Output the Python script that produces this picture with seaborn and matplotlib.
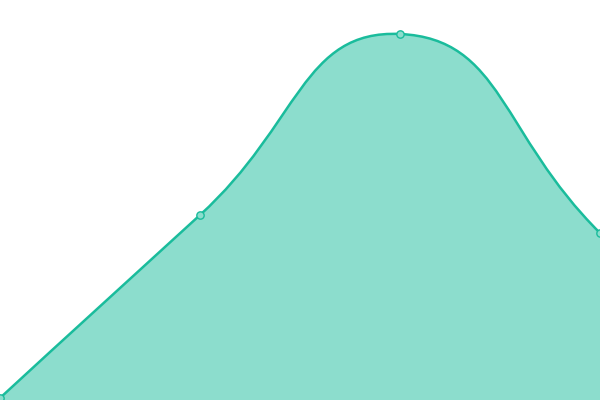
import numpy as np
import matplotlib
matplotlib.use("Agg")
import matplotlib.pyplot as plt
from matplotlib.path import Path
from matplotlib.patches import PathPatch
import seaborn as sns

categories = ["A", "B", "C", "D"]
values = [2, 185, 366, 167]

line_color = "#1abc9c"
smooth = 0.5

sns.set_theme(style="white")

fig = plt.figure(figsize=(6, 4), dpi=100)
ax = fig.add_axes([0, 0, 1, 1])
ax.set_xlim(0, len(categories) - 1)
ax.set_ylim(0, 400)
ax.set_axis_off()

x = np.arange(len(categories))
pts = ax.transData.transform(np.column_stack([x, values]))


def smooth_path(p):
    # echarts-style bezier smoothing, done in pixel space
    verts = [p[0]]
    codes = [Path.MOVETO]
    cp = p[0]
    n = len(p)
    for i in range(1, n):
        cur = p[i]
        prev = p[i - 1]
        nxt = p[i + 1] if i + 1 < n else cur
        v = nxt - prev
        d0 = np.hypot(*(cur - prev))
        d1 = np.hypot(*(nxt - cur))
        r = d1 / (d0 + d1) if d0 + d1 else 0.5
        cp0 = cur - v * smooth * (1 - r)
        verts += [cp, cp0, cur]
        codes += [Path.CURVE4] * 3
        cp = cur + v * smooth * r
    return np.array(verts), codes


verts, codes = smooth_path(pts)
inv = ax.transData.inverted()
dverts = inv.transform(verts)

line = Path(dverts, codes)
ax.add_patch(PathPatch(line, fill=False, edgecolor=line_color, lw=1.8,
                       capstyle="round", joinstyle="round", zorder=3))

base = ax.get_ylim()[0]
area_verts = np.vstack([dverts, [[x[-1], base], [x[0], base], dverts[0]]])
area_codes = codes + [Path.LINETO, Path.LINETO, Path.CLOSEPOLY]
ax.add_patch(PathPatch(Path(area_verts, area_codes), facecolor=line_color,
                       alpha=0.5, lw=0, zorder=2))

sns.scatterplot(x=x, y=values, ax=ax, s=28, color="#8cddcd",
                edgecolor=line_color, linewidth=1, zorder=4, clip_on=False)

fig.savefig("out.png", dpi=100)
